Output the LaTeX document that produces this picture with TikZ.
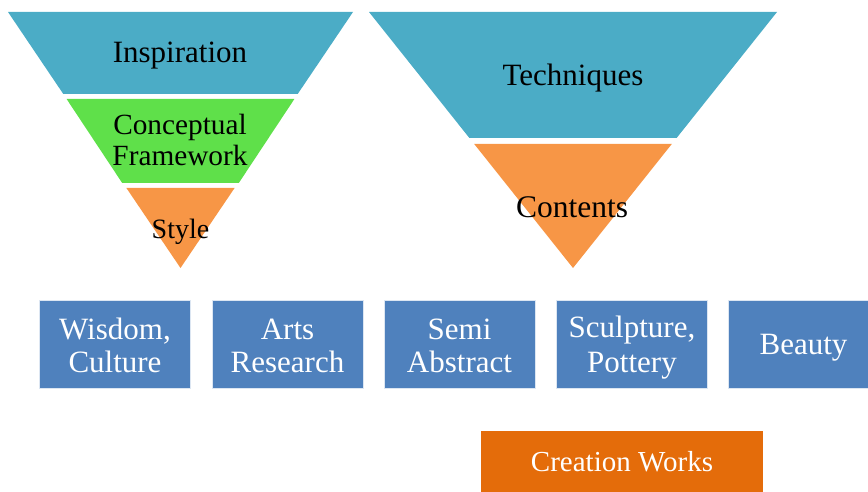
\documentclass[tikz,border=0pt]{standalone}
\usepackage{fontspec}
\setmainfont{Liberation Serif}

\definecolor{aqua}{HTML}{4BACC6}
\definecolor{lime}{HTML}{5FE04A}
\definecolor{peach}{HTML}{F79646}
\definecolor{steel}{HTML}{4F81BD}
\definecolor{rust}{HTML}{E46C0A}

% strut giving every line of a box the same height and depth
\newcommand{\bstrut}{\rule[-5.5pt]{0pt}{33pt}}

\tikzset{
  label30/.style={font=\fontsize{31}{33}\selectfont, text=black, inner sep=0pt, anchor=base},
  label29/.style={font=\fontsize{29.3}{31}\selectfont, text=black, inner sep=0pt, anchor=base},
  label28/.style={font=\fontsize{28}{31}\selectfont, text=black, inner sep=0pt, anchor=base},
  bluebox/.style={fill=steel, draw=white!80!steel, line width=0.8pt,
    minimum width=151pt, minimum height=88pt, inner sep=0pt,
    text=white, align=center, font=\fontsize{31}{33}\selectfont},
  resultbox/.style={fill=rust, draw=none, minimum width=282pt, minimum height=61pt,
    inner sep=0pt, text=white, font=\fontsize{29}{33}\selectfont},
}

\begin{document}
\begin{tikzpicture}[x=1pt,y=-1pt]
  \useasboundingbox (0,0) rectangle (868,492);

  % left funnel
  \fill[aqua] (8,12) -- (353,12) -- (297.7,94) -- (63.3,94) -- cycle;
  \fill[lime] (66.6,99) -- (294.4,99) -- (238.8,183) -- (122.2,183) -- cycle;
  \fill[peach] (126.4,188) -- (234.6,188) -- (180.5,268) -- cycle;
  \node[label30] (inspiration) at (180,63) {Inspiration};
  \node[label29] (conceptual) at (180,135) {Conceptual};
  \node[label29] (framework) at (180,166) {Framework};
  \node[label28] (style) at (180.5,238) {Style};

  % right funnel
  \fill[aqua] (369,12) -- (777,12) -- (676.6,138) -- (469.4,138) -- cycle;
  \fill[peach] (474.2,144) -- (671.8,144) -- (573,268) -- cycle;
  \node[label30] (techniques) at (573,86) {Techniques};
  \node[label30, font=\fontsize{31.5}{33}\selectfont] (contents) at (572,218) {Contents};

  % row of topic boxes
  \node[bluebox] (wisdom)    at (115,344.5) {\bstrut Wisdom,\\\bstrut Culture};
  \node[bluebox] (arts)      at (287.5,344.5) {\bstrut Arts\\\bstrut Research};
  \node[bluebox] (semi)      at (459.5,344.5) {\bstrut Semi\\\bstrut Abstract};
  \node[bluebox] (sculpture) at (632,344.5) {\bstrut Sculpture,\\\bstrut Pottery};
  \node[bluebox] (beauty)    at (803.5,344.5) {\bstrut Beauty};

  % outcome
  \node[resultbox] (creation) at (622,461.5) {Creation Works};
\end{tikzpicture}
\end{document}
